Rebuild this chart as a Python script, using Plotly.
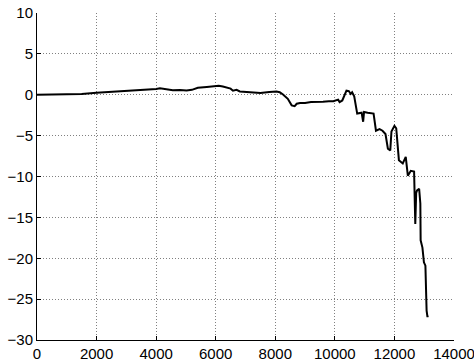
import plotly.graph_objects as go

# Cumulative series: sample index vs. running value
idx = [0, 500, 1000, 1500, 2000, 2500, 3000, 3500, 4000, 4130, 4300, 4560,
       4800, 5020, 5200, 5400, 5700, 5970, 6100, 6240, 6410, 6500, 6580, 6700,
       6810, 7150, 7500, 7800, 8040, 8150, 8260, 8420,
       8550, 8650, 8720, 8830, 9000, 9200, 9400, 9600, 9800, 9950, 10110,
       10160, 10250, 10390, 10470, 10530, 10580, 10650, 10750, 10900, 10950,
       10980, 11100, 11300, 11380, 11500, 11600, 11700, 11780, 11860, 11900,
       12000, 12060, 12150, 12280, 12380, 12450, 12550, 12660, 12680, 12700,
       12730, 12760, 12830, 12870, 12880, 12940, 12990, 13040, 13080, 13110,
       13120]
vals = [0.0, 0.02, 0.05, 0.1, 0.25, 0.35, 0.45, 0.56, 0.7, 0.8, 0.7, 0.56,
        0.58, 0.53, 0.6, 0.85, 0.95, 1.05, 1.1, 1.0, 0.8, 0.75, 0.5, 0.6,
        0.4, 0.3, 0.2, 0.35, 0.4, 0.3, 0.04, -0.5,
        -1.3, -1.4, -1.1, -1.0, -1.0, -0.9, -0.9, -0.85, -0.8, -0.8, -0.6,
        -0.9, -0.7, 0.5, 0.45, 0.1, 0.3, -0.2, -2.3, -2.2, -3.3,
        -2.1, -2.2, -2.3, -4.4, -4.2, -4.4, -4.8, -6.6, -6.8, -4.5,
        -3.8, -4.1, -8.0, -8.4, -7.6, -9.9, -9.3, -9.4, -11.5, -15.8,
        -12.0, -11.7, -11.5, -13.3, -17.8, -18.7, -20.5, -20.9, -26.4, -27.2,
        -27.0]

x_ticks = [0, 2000, 4000, 6000, 8000, 10000, 12000, 14000]
y_ticks = [-30, -25, -20, -15, -10, -5, 0, 5, 10]

fig = go.Figure()
fig.add_trace(go.Scatter(x=idx, y=vals, mode="lines",
                         line=dict(color="black", width=2),
                         showlegend=False))

axis_common = dict(
    showline=True, linecolor="black", linewidth=1, mirror=False,
    ticks="inside", ticklen=4, tickcolor="black",
    showgrid=True, gridcolor="#808080", gridwidth=1, griddash="1px,2px",
    zeroline=False, automargin=False, ticklabeloverflow="allow",
    tickfont=dict(family="Liberation Sans, Arial, Helvetica", size=15, color="black"),
)

fig.update_xaxes(range=[0, 14000], tickvals=x_ticks,
                 ticktext=[str(v) for v in x_ticks], **axis_common)
fig.update_yaxes(range=[-30, 10], tickvals=y_ticks, **axis_common)

fig.update_layout(
    width=474, height=362, autosize=False,
    margin=dict(l=37, r=20, t=13, b=22),
    paper_bgcolor="white", plot_bgcolor="white",
)

fig.write_html("out.html")
